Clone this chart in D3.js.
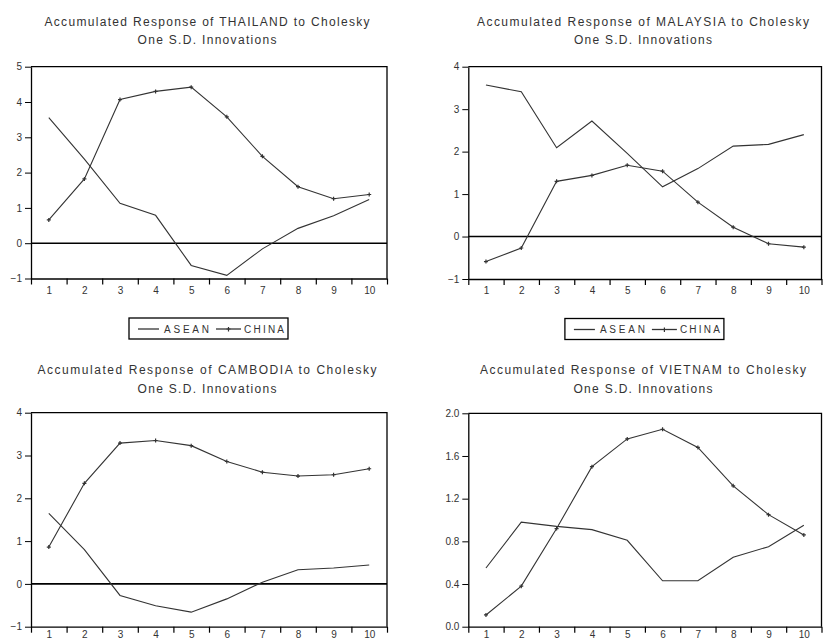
<!DOCTYPE html>
<html>
<head>
<meta charset="utf-8">
<script src="https://cdn.jsdelivr.net/npm/d3@7"></script>
<style>
  body { margin: 0; background: #fff; }
  svg { display: block; }
  text { font-family: "Liberation Sans", Arial, sans-serif; }
</style>
</head>
<body>
<svg id="chart" width="823" height="643"></svg>
<script>
// Accumulated impulse responses, horizon 1..10
const periods = [1, 2, 3, 4, 5, 6, 7, 8, 9, 10];
const seriesNames = ["ASEAN", "CHINA"];

const thailandAsean = [3.56, 2.38, 1.13, 0.79, -0.63, -0.91, -0.16, 0.42, 0.78, 1.24];
const thailandChina = [0.66, 1.82, 4.07, 4.30, 4.42, 3.58, 2.46, 1.60, 1.26, 1.38];
const malaysiaAsean = [3.57, 3.41, 2.09, 2.72, 1.96, 1.17, 1.60, 2.13, 2.17, 2.40];
const malaysiaChina = [-0.59, -0.27, 1.30, 1.44, 1.68, 1.54, 0.81, 0.22, -0.17, -0.25];
const cambodiaAsean = [1.65, 0.80, -0.27, -0.51, -0.66, -0.35, 0.04, 0.33, 0.37, 0.44];
const cambodiaChina = [0.86, 2.35, 3.29, 3.35, 3.23, 2.86, 2.61, 2.52, 2.55, 2.69];
const vietnamAsean = [0.55, 0.98, 0.94, 0.91, 0.81, 0.43, 0.43, 0.65, 0.75, 0.95];
const vietnamChina = [0.11, 0.38, 0.92, 1.50, 1.76, 1.85, 1.68, 1.32, 1.05, 0.86];

const thailandTicks = [-1, 0, 1, 2, 3, 4, 5];
const malaysiaTicks = [-1, 0, 1, 2, 3, 4];
const cambodiaTicks = [-1, 0, 1, 2, 3, 4];
const vietnamTicks = [0.0, 0.4, 0.8, 1.2, 1.6, 2.0];

const svg = d3.select("#chart");
const ink = "#333";

const panels = [
  { country: "THAILAND", asean: thailandAsean, china: thailandChina, ticks: thailandTicks,
    fmt: d3.format("d"), box: { l: 31, t: 66.7, r: 387, b: 278.5 },
    titleW: [325, 139], titleY: [25.5, 44], legend: true, zeroLine: true, labelPad: 8 },
  { country: "MALAYSIA", asean: malaysiaAsean, china: malaysiaChina, ticks: malaysiaTicks,
    fmt: d3.format("d"), box: { l: 468.3, t: 66.7, r: 821.5, b: 279 },
    titleW: [332, 138], titleY: [25.5, 44], legend: true, zeroLine: true, labelPad: 8 },
  { country: "CAMBODIA", asean: cambodiaAsean, china: cambodiaChina, ticks: cambodiaTicks,
    fmt: d3.format("d"), box: { l: 31, t: 412.7, r: 387, b: 626.7 },
    titleW: [339, 139], titleY: [373.5, 393], legend: false, zeroLine: true, labelPad: 4 },
  { country: "VIETNAM", asean: vietnamAsean, china: vietnamChina, ticks: vietnamTicks,
    fmt: d3.format(".1f"), box: { l: 468.3, t: 413.3, r: 821.5, b: 626.7 },
    titleW: [326, 139], titleY: [373.5, 393], legend: false, zeroLine: false, labelPad: 4 }
];

panels.forEach(p => {
  const { l, t, r, b } = p.box;
  const cx = (l + r) / 2;
  const g = svg.append("g");

  const x = d3.scaleLinear().domain([0.5, 10.5]).range([l, r]);
  const y = d3.scaleLinear().domain(d3.extent(p.ticks)).range([b, t]);

  // Title (two lines)
  const titleLines = [`Accumulated Response of ${p.country} to Cholesky`, "One S.D. Innovations"];
  titleLines.forEach((s, i) => {
    g.append("text")
      .attr("x", cx - 2).attr("y", p.titleY[i])
      .attr("text-anchor", "middle")
      .attr("font-size", 12)
      .attr("fill", ink)
      .attr("textLength", p.titleW[i])
      .attr("lengthAdjust", "spacing")
      .text(s);
  });

  // Frame: top and right edges
  g.append("path")
    .attr("d", `M${l},${t}H${r}V${b}`)
    .attr("fill", "none").attr("stroke", "#000").attr("stroke-width", 1.3);

  // Y axis
  const yAxis = g.append("g")
    .attr("transform", `translate(${l},0)`)
    .call(d3.axisLeft(y).tickValues(p.ticks).tickFormat(p.fmt).tickSize(6).tickSizeOuter(0).tickPadding(3));
  yAxis.select(".domain").attr("stroke", "#000").attr("stroke-width", 1.3);
  yAxis.selectAll(".tick line").attr("stroke", "#000");
  yAxis.selectAll("text").attr("font-size", 10).attr("fill", ink).attr("font-family", "Liberation Sans, Arial, sans-serif");

  // X axis: tick marks on period boundaries
  const edges = d3.range(0.5, 11, 1);
  const xTicks = g.append("g")
    .attr("transform", `translate(0,${b})`)
    .call(d3.axisBottom(x).tickValues(edges).tickFormat("").tickSize(6).tickSizeOuter(0));
  xTicks.select(".domain").attr("stroke", "#000").attr("stroke-width", 1.3);
  xTicks.selectAll(".tick line").attr("stroke", "#000").attr("stroke-width", 1.2);

  // X axis: period labels centred in each period
  const xLabels = g.append("g")
    .attr("transform", `translate(0,${b})`)
    .call(d3.axisBottom(x).tickValues(periods).tickFormat(d3.format("d")).tickSize(0).tickPadding(p.labelPad));
  xLabels.select(".domain").remove();
  xLabels.selectAll("text").attr("font-size", 10).attr("fill", ink).attr("font-family", "Liberation Sans, Arial, sans-serif");

  // Zero reference line
  if (p.zeroLine) {
    g.append("line")
      .attr("x1", l).attr("x2", r)
      .attr("y1", y(0)).attr("y2", y(0))
      .attr("stroke", "#000").attr("stroke-width", 1.6);
  }

  const line = d3.line().x((d, i) => x(periods[i])).y(d => y(d));

  // ASEAN: plain line
  g.append("path")
    .datum(p.asean)
    .attr("d", line)
    .attr("fill", "none").attr("stroke", ink).attr("stroke-width", 1.1);

  // CHINA: line with small cross markers
  g.append("path")
    .datum(p.china)
    .attr("d", line)
    .attr("fill", "none").attr("stroke", ink).attr("stroke-width", 1.1);
  g.selectAll(".mk")
    .data(p.china)
    .join("path")
    .attr("transform", (d, i) => `translate(${x(periods[i])},${y(d)})`)
    .attr("d", "M-2,0H2M0,-2V2")
    .attr("stroke", ink).attr("stroke-width", 1.2);

  // Legend
  if (p.legend) {
    const lx = cx - 80, ly = b + 39.5, lw = 159, lh = 21;
    const lg = g.append("g");
    lg.append("rect")
      .attr("x", lx).attr("y", ly).attr("width", lw).attr("height", lh)
      .attr("fill", "#fff").attr("stroke", "#000").attr("stroke-width", 1.3);
    const my = ly + lh / 2 + 0.5;
    const items = [
      { name: seriesNames[0], x0: 9, x1: 30, tx: 35, tw: 45, marker: false },
      { name: seriesNames[1], x0: 87, x1: 112, tx: 115, tw: 40, marker: true }
    ];
    items.forEach(it => {
      lg.append("line")
        .attr("x1", lx + it.x0).attr("x2", lx + it.x1)
        .attr("y1", my).attr("y2", my)
        .attr("stroke", ink).attr("stroke-width", 1.3);
      if (it.marker) {
        lg.append("path")
          .attr("transform", `translate(${lx + (it.x0 + it.x1) / 2},${my})`)
          .attr("d", "M-2,0H2M0,-2V2.5")
          .attr("stroke", ink).attr("stroke-width", 1.2);
      }
      lg.append("text")
        .attr("x", lx + it.tx).attr("y", my + 3.5)
        .attr("font-size", 10)
        .attr("fill", ink)
        .attr("textLength", it.tw)
        .attr("lengthAdjust", "spacing")
        .text(it.name);
    });
  }
});
</script>
</body>
</html>
